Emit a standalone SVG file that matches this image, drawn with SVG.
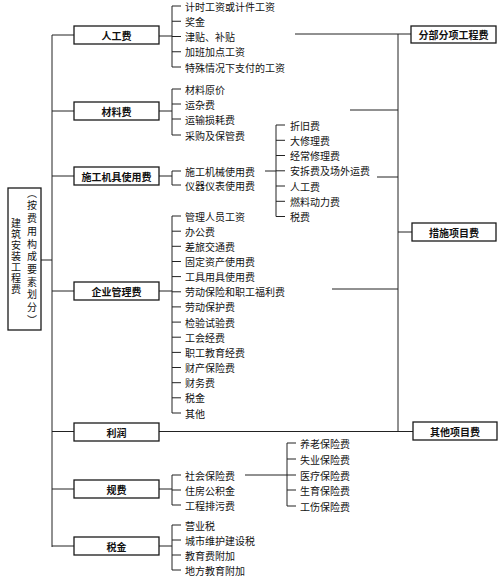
<svg xmlns="http://www.w3.org/2000/svg" width="503" height="579" viewBox="0 0 503 579">
<style>
text{font-family:"Noto Sans CJK SC","Noto Sans CJK JP",sans-serif;font-size:10px;fill:#111;dominant-baseline:central}
.box{fill:#fff;stroke:#1a1a1a;stroke-width:1.3}
.lbl{text-anchor:middle;font-weight:bold}
.it{text-anchor:start}
.ln{fill:none;stroke:#222;stroke-width:1}
.vt{writing-mode:vertical-rl;text-anchor:start}
</style>
<rect width="503" height="579" fill="#fff"/>
<g id="connectors" class="ln">
<path d="M41 260H52M52 35V547M52 35H74M52 111H74M52 176H74M52 291H74M52 431.5H74M52 489H74M52 546H74"/>
<path d="M159 36H172M181 6H172V67H181M172 21.25H181M172 36.5H181M172 51.75H181"/>
<path d="M159 111H172M181 89H172V135H181M172 104H181M172 119H181"/>
<path d="M159 176H172M181 171H172V185H181"/>
<path d="M265 171H276M285 125H276V216.5H285M276 140.3H285M276 155.5H285M276 170.8H285M276 186H285M276 201.3H285"/>
<path d="M159 291H172M181 216H172V413H181M172 231.2H181M172 246.3H181M172 261.5H181M172 276.6H181M172 291.8H181M172 306.9H181M172 322.1H181M172 337.2H181M172 352.4H181M172 367.5H181M172 382.7H181M172 397.8H181"/>
<path d="M159 431.5H398"/>
<path d="M159 489H172M181 475H172V505H181M172 490H181"/>
<path d="M245 475H287M296 443H287V506H296M287 459H296M287 475H296M287 490H296"/>
<path d="M159 546H172M181 525H172V570H181M172 540H181M172 555H181"/>
<path d="M398 34V431.5M295 34H411M350 110H398M377 177H398M332 289H398M398 232H412M398 431.5H413"/>
</g>
<g id="root">
<rect class="box" x="8" y="188" width="33" height="142"/>
<text class="vt" x="16" y="218" style="letter-spacing:1px">建筑安装工程费</text>
<text class="vt" x="32" y="188" style="letter-spacing:2.7px">（按费用构成要素划分）</text>
</g>
<g id="rengongfei"><rect class="box" x="74" y="26" width="85" height="18"/><text class="lbl" x="116.5" y="35.5">人工费</text></g>
<g id="cailiaofei"><rect class="box" x="74" y="102" width="85" height="18"/><text class="lbl" x="116.5" y="111.5">材料费</text></g>
<g id="jijufei"><rect class="box" x="74" y="167" width="85" height="18"/><text class="lbl" x="116.5" y="176.5">施工机具使用费</text></g>
<g id="guanlifei"><rect class="box" x="74" y="282" width="85" height="18"/><text class="lbl" x="116.5" y="291.5">企业管理费</text></g>
<g id="lirun"><rect class="box" x="74" y="423" width="85" height="18"/><text class="lbl" x="116.5" y="432">利润</text></g>
<g id="guifei"><rect class="box" x="74" y="480" width="85" height="18"/><text class="lbl" x="116.5" y="489">规费</text></g>
<g id="shuijin"><rect class="box" x="74" y="537" width="85" height="18"/><text class="lbl" x="116.5" y="546">税金</text></g>
<g id="fenbu"><rect class="box" x="411" y="26" width="85" height="17"/><text class="lbl" x="453.5" y="34.5">分部分项工程费</text></g>
<g id="cuoshi"><rect class="box" x="412" y="223" width="84" height="18"/><text class="lbl" x="454" y="232">措施项目费</text></g>
<g id="qita"><rect class="box" x="413" y="422" width="84" height="18"/><text class="lbl" x="455" y="431">其他项目费</text></g>
<g id="rg-items" class="it">
<g id="rg1"><text x="185" y="6">计时工资或计件工资</text></g>
<g id="rg2"><text x="185" y="21.25">奖金</text></g>
<g id="rg3"><text x="185" y="36.5">津贴、补贴</text></g>
<g id="rg4"><text x="185" y="51.75">加班加点工资</text></g>
<g id="rg5"><text x="185" y="67">特殊情况下支付的工资</text></g>
</g>
<g id="cl-items">
<g id="cl1"><text x="185" y="89">材料原价</text></g>
<g id="cl2"><text x="185" y="104">运杂费</text></g>
<g id="cl3"><text x="185" y="119">运输损耗费</text></g>
<g id="cl4"><text x="185" y="135">采购及保管费</text></g>
</g>
<g id="jj-items">
<g id="jj1"><text x="185" y="171">施工机械使用费</text></g>
<g id="jj2"><text x="185" y="185">仪器仪表使用费</text></g>
</g>
<g id="jx-items">
<g id="jx1"><text x="290" y="125">折旧费</text></g>
<g id="jx2"><text x="290" y="140.3">大修理费</text></g>
<g id="jx3"><text x="290" y="155.5">经常修理费</text></g>
<g id="jx4"><text x="290" y="170.8">安拆费及场外运费</text></g>
<g id="jx5"><text x="290" y="186">人工费</text></g>
<g id="jx6"><text x="290" y="201.3">燃料动力费</text></g>
<g id="jx7"><text x="290" y="216.5">税费</text></g>
</g>
<g id="gl-items">
<g id="gl1"><text x="185" y="216">管理人员工资</text></g>
<g id="gl2"><text x="185" y="231.2">办公费</text></g>
<g id="gl3"><text x="185" y="246.3">差旅交通费</text></g>
<g id="gl4"><text x="185" y="261.5">固定资产使用费</text></g>
<g id="gl5"><text x="185" y="276.6">工具用具使用费</text></g>
<g id="gl6"><text x="185" y="291.8">劳动保险和职工福利费</text></g>
<g id="gl7"><text x="185" y="306.9">劳动保护费</text></g>
<g id="gl8"><text x="185" y="322.1">检验试验费</text></g>
<g id="gl9"><text x="185" y="337.2">工会经费</text></g>
<g id="gl10"><text x="185" y="352.4">职工教育经费</text></g>
<g id="gl11"><text x="185" y="367.5">财产保险费</text></g>
<g id="gl12"><text x="185" y="382.7">财务费</text></g>
<g id="gl13"><text x="185" y="397.8">税金</text></g>
<g id="gl14"><text x="185" y="413">其他</text></g>
</g>
<g id="gf-items">
<g id="gf1"><text x="185" y="475">社会保险费</text></g>
<g id="gf2"><text x="185" y="490">住房公积金</text></g>
<g id="gf3"><text x="185" y="505">工程排污费</text></g>
</g>
<g id="sb-items">
<g id="sb1"><text x="300" y="443">养老保险费</text></g>
<g id="sb2"><text x="300" y="459">失业保险费</text></g>
<g id="sb3"><text x="300" y="475">医疗保险费</text></g>
<g id="sb4"><text x="300" y="490">生育保险费</text></g>
<g id="sb5"><text x="300" y="506">工伤保险费</text></g>
</g>
<g id="sj-items">
<g id="sj1"><text x="185" y="525">营业税</text></g>
<g id="sj2"><text x="185" y="540">城市维护建设税</text></g>
<g id="sj3"><text x="185" y="555">教育费附加</text></g>
<g id="sj4"><text x="185" y="570">地方教育附加</text></g>
</g>
</svg>
